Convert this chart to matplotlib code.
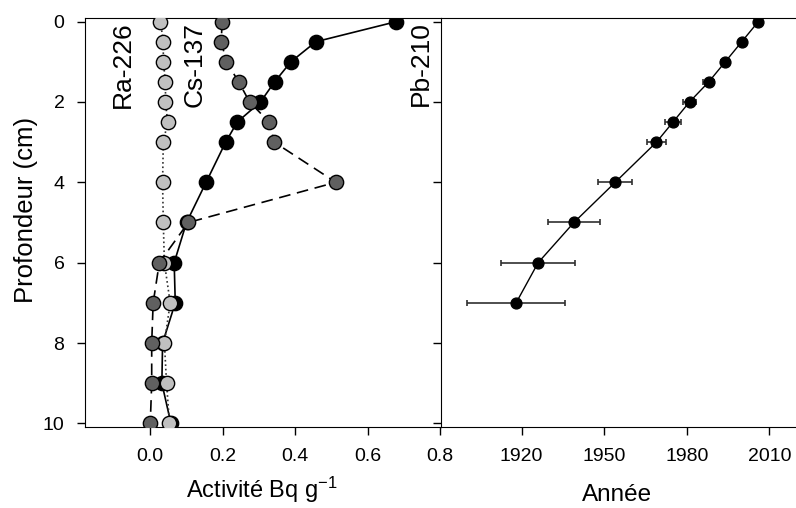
import matplotlib
matplotlib.use("Agg")
import matplotlib.pyplot as plt

plt.rcParams['font.family'] = ['Liberation Sans', 'DejaVu Sans']
plt.rcParams['mathtext.fontset'] = 'custom'
plt.rcParams['mathtext.rm'] = 'Liberation Sans'
plt.rcParams['mathtext.it'] = 'Liberation Sans:italic'

depth = [0, 0.5, 1, 1.5, 2, 2.5, 3, 4, 5, 6, 7, 8, 9, 10]
pb210 = [0.679, 0.457, 0.388, 0.343, 0.304, 0.240, 0.208, 0.154, 0.10, 0.066, 0.069, 0.034, 0.032, 0.057]
cs137 = [0.198, 0.196, 0.210, 0.244, 0.274, 0.328, 0.342, 0.512, 0.105, 0.025, 0.008, 0.004, 0.004, 0.0]
ra226 = [0.028, 0.036, 0.036, 0.042, 0.042, 0.048, 0.036, 0.034, 0.036, 0.039, 0.055, 0.039, 0.045, 0.053]

date_depth = [0, 0.5, 1, 1.5, 2, 2.5, 3, 4, 5, 6, 7]
years = [2006, 2000, 1994, 1988, 1981, 1975, 1969, 1954, 1939, 1926, 1918]
year_err = [1, 1, 1.5, 2, 2.3, 3, 3.6, 6.1, 9.3, 13.5, 17.7]

act_ticks = [0.0, 0.2, 0.4, 0.6, 0.8]
year_ticks = [1920, 1950, 1980, 2010]
depth_ticks = [0, 2, 4, 6, 8, 10]

fig = plt.figure(figsize=(7.96, 5.08), dpi=100)
W, H = 796, 508
top = 1 - 18 / H
bot = 1 - 427 / H
ax1 = fig.add_axes([85 / W, bot, (441 - 85) / W, top - bot])
ax2 = fig.add_axes([441 / W, bot, (796 - 441) / W, top - bot])

ax1.plot(pb210, depth, '-', color='black', lw=1.2, marker='o', ms=10.3,
         mfc='black', mec='black', mew=1, zorder=3)
ax1.plot(ra226, depth, ':', color='#333333', lw=1.2, marker='o', ms=10.3,
         mfc='#c0c0c0', mec='black', mew=1, zorder=4)
ax1.plot(cs137, depth, '--', color='black', lw=1.2, dashes=(7, 4), marker='o', ms=10.3,
         mfc='#606060', mec='black', mew=1, zorder=5)

ax1.set_xlim(-0.18, 0.802)
ax1.set_ylim(10.09, -0.09)
ax1.set_xticks(act_ticks)
ax1.set_xticklabels(['%.1f' % t for t in act_ticks])
ax1.set_yticks(depth_ticks)
ax1.tick_params(direction='out', labelsize=14, length=5.8, width=1, pad=9)
ax1.set_xlabel('Activité Bq g$^{\\mathregular{-1}}$', fontsize=17)
ax1.xaxis.set_label_coords(0.497, -0.118)
ax1.set_ylabel('Profondeur (cm)', fontsize=18.5)
ax1.yaxis.set_label_coords(-0.132, 0.53)
ax1.spines['right'].set_visible(False)

ax1.text(-0.075, 0.0, 'Ra-226', rotation=90, fontsize=19, ha='center', va='top')
ax1.text(0.123, 0.0, 'Cs-137', rotation=90, fontsize=19, ha='center', va='top')
ax1.text(0.747, 0.0, 'Pb-210', rotation=90, fontsize=19, ha='center', va='top')

ax2.errorbar(years, date_depth, xerr=year_err, fmt='-o', color='black', lw=1,
             ms=7.8, mfc='black', mec='black', ecolor='#303030', elinewidth=1.2,
             capsize=2.5, capthick=1.2, zorder=3)
ax2.set_xlim(1890.7, 2019.7)
ax2.set_ylim(10.09, -0.09)
ax2.set_xticks(year_ticks)
ax2.set_yticks(depth_ticks)
ax2.set_yticklabels([])
ax2.tick_params(direction='out', labelsize=14, length=5.8, width=1, pad=9)
ax2.set_xlabel('Année', fontsize=17.5)
ax2.xaxis.set_label_coords(0.496, -0.14)
ax2.spines['right'].set_visible(False)

fig.savefig('out.png', dpi=100)
